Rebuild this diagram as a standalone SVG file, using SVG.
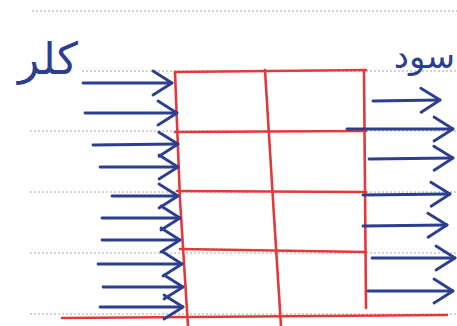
<svg xmlns="http://www.w3.org/2000/svg" width="457" height="326" viewBox="0 0 457 326">
<style>
.paper{stroke:#a8a898;stroke-width:1;stroke-dasharray:2 2;fill:none}
.red{stroke:#e23a3a;stroke-width:2.6;fill:none;stroke-linecap:round}
.blue{stroke:#2c3f8e;stroke-width:2.8;fill:none;stroke-linecap:round}
.hand{font-family:"DejaVu Sans",sans-serif;fill:#2c3f8e}
</style>
<defs>
<marker id="v" markerUnits="userSpaceOnUse" viewBox="0 0 24 28" refX="22" refY="14" markerWidth="24" markerHeight="28" orient="auto">
<path d="M3,2 L22,14 L3,26" fill="none" stroke="#2c3f8e" stroke-width="2.8" stroke-linecap="round" stroke-linejoin="round"/>
</marker>
</defs>
<rect width="457" height="326" fill="#ffffff"/>
<g id="paper-lines">
<path class="paper" d="M32,11 H457"/>
<path class="paper" d="M82,71 H457"/>
<path class="paper" d="M30,131 H457"/>
<path class="paper" d="M30,192 H457"/>
<path class="paper" d="M30,253 H457"/>
<path class="paper" d="M30,314 H457"/>
</g>
<g id="grid">
<path class="red" d="M175,72 L366,70"/>
<path class="red" d="M175,72 L180,200 L188,326"/>
<path class="red" d="M364,70 L366,308"/>
<path class="red" d="M265,70 L273,200 L281,326"/>
<path class="red" d="M175,132 L366,131"/>
<path class="red" d="M177,191 L366,192"/>
<path class="red" d="M180,249 L366,252"/>
<path class="red" d="M62,318 L447,315"/>
</g>
<g id="connectors">
<path class="blue" marker-end="url(#v)" d="M83,83 L172,83"/>
<path class="blue" marker-end="url(#v)" d="M85,113 L177,113"/>
<path class="blue" marker-end="url(#v)" d="M93,145 L178,144"/>
<path class="blue" marker-end="url(#v)" d="M100,167 L178,167"/>
<path class="blue" marker-end="url(#v)" d="M112,196 L178,196"/>
<path class="blue" marker-end="url(#v)" d="M102,218 L180,218"/>
<path class="blue" marker-end="url(#v)" d="M102,240 L180,240"/>
<path class="blue" marker-end="url(#v)" d="M98,264 L182,264"/>
<path class="blue" marker-end="url(#v)" d="M103,287 L183,287"/>
<path class="blue" marker-end="url(#v)" d="M100,307 L183,307"/>
<path class="blue" marker-end="url(#v)" d="M373,101 L440,100"/>
<path class="blue" marker-end="url(#v)" d="M347,129 L453,129"/>
<path class="blue" marker-end="url(#v)" d="M369,159 L453,158"/>
<path class="blue" marker-end="url(#v)" d="M363,195 L450,194"/>
<path class="blue" marker-end="url(#v)" d="M363,226 L447,225"/>
<path class="blue" marker-end="url(#v)" d="M372,258 L455,258"/>
<path class="blue" marker-end="url(#v)" d="M368,291 L453,291"/>
</g>
<g id="label-left">
<text class="hand" x="48" y="74" font-size="44" text-anchor="middle">کلر</text>
</g>
<g id="label-right">
<text class="hand" x="455" y="68" font-size="34" text-anchor="end">سود</text>
</g>
</svg>
